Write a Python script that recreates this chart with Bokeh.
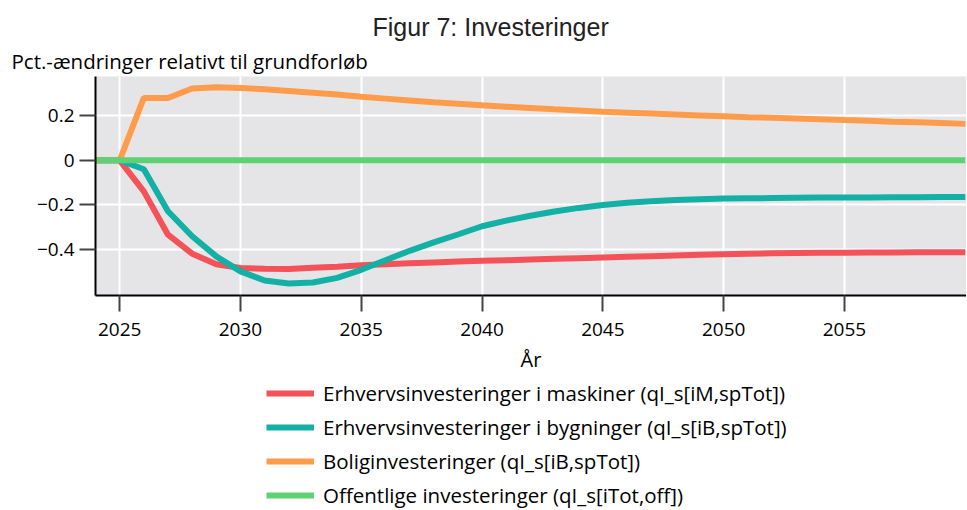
from bokeh.plotting import figure
from bokeh.layouts import column
from bokeh.models import Range1d, FixedTicker, Legend, LegendItem, Title
from bokeh.embed import file_html
from bokeh.resources import INLINE

years = list(range(2024, 2061))
maskiner = [0, 0, -0.139, -0.333, -0.418, -0.465, -0.482, -0.485, -0.486, -0.481,
            -0.476, -0.470, -0.465, -0.461, -0.457, -0.453, -0.450, -0.447, -0.444, -0.441,
            -0.438, -0.435, -0.432, -0.429, -0.426, -0.423, -0.420, -0.418, -0.416, -0.415,
            -0.414, -0.414, -0.413, -0.413, -0.412, -0.412, -0.412]
bygninger = [0, 0, -0.040, -0.228, -0.340, -0.430, -0.497, -0.538, -0.551, -0.547,
             -0.526, -0.490, -0.447, -0.405, -0.367, -0.332, -0.295, -0.270, -0.248, -0.229,
             -0.213, -0.200, -0.190, -0.183, -0.178, -0.174, -0.171, -0.170, -0.169, -0.168,
             -0.167, -0.166, -0.166, -0.165, -0.165, -0.164, -0.164]
bolig = [0, 0, 0.279, 0.279, 0.321, 0.327, 0.324, 0.318, 0.310, 0.302,
         0.294, 0.284, 0.276, 0.268, 0.260, 0.253, 0.246, 0.240, 0.234, 0.228,
         0.223, 0.217, 0.213, 0.209, 0.205, 0.201, 0.197, 0.193, 0.190, 0.187,
         0.184, 0.180, 0.177, 0.173, 0.170, 0.167, 0.163]
offentlige = [0.0] * len(years)

series_names = [
    "Erhvervsinvesteringer i maskiner (qI_s[iM,spTot])",
    "Erhvervsinvesteringer i bygninger (qI_s[iB,spTot])",
    "Boliginvesteringer (qI_s[iB,spTot])",
    "Offentlige investeringer (qI_s[iTot,off])",
]
series_values = [maskiner, bygninger, bolig, offentlige]
colors = ["#F25258", "#13B0A6", "#FF9C4B", "#5ED174"]

x_ticks = [2025, 2030, 2035, 2040, 2045, 2050, 2055]
y_ticks = [-0.4, -0.2, 0, 0.2]
y_tick_labels = ["\u22120.4", "\u22120.2", "0", "0.2"]

FONT = "Open Sans"
FS = "19px"
FS_TEXT = "20.5px"

p = figure(frame_width=871, frame_height=219, output_backend="svg", toolbar_location=None,
           x_range=Range1d(2024, 2060.05), y_range=Range1d(-0.605, 0.375),
           min_border_left=95, min_border_right=0, min_border_top=0, min_border_bottom=78)

# spacer title (outermost)
p.title.text = " "
p.title.text_font_size = "6px"
p.title.standoff = 0

p.add_layout(Title(text="Pct.-\u00e6ndringer relativt til grundforl\u00f8b", text_font=FONT,
                   text_font_size=FS_TEXT, text_font_style="normal", text_color="black",
                   align="left", offset=-84, standoff=4), "above")
p.add_layout(Title(text="Figur 7: Investeringer", text_font="Liberation Sans",
                   text_font_size="25px", text_font_style="normal", text_color="#222222",
                   align="left", offset=277, standoff=4), "above")

p.background_fill_color = "#E5E5E8"
p.outline_line_color = None
p.grid.grid_line_color = "white"
p.grid.grid_line_width = 2

for vals, col in zip(series_values, colors):
    p.line(years, vals, line_color=col, line_width=6)

p.xaxis.ticker = FixedTicker(ticks=x_ticks)
p.yaxis.ticker = FixedTicker(ticks=y_ticks)
p.yaxis.major_label_overrides = {t: l for t, l in zip(y_ticks, y_tick_labels)}
p.xaxis.axis_label = "\u00c5r"
for ax in (p.xaxis[0], p.yaxis[0]):
    ax.axis_line_color = "black"
    ax.axis_line_width = 2
    ax.major_tick_line_color = "#444444"
    ax.major_tick_line_width = 2
    ax.major_tick_out = 16
    ax.major_tick_in = 0
    ax.minor_tick_line_color = None
    ax.major_label_text_font = FONT
    ax.major_label_text_font_size = FS
    ax.major_label_text_color = "black"
    ax.axis_label_text_font = FONT
    ax.axis_label_text_font_size = "20px"
    ax.axis_label_text_font_style = "normal"
    ax.axis_label_text_color = "black"
p.xaxis.major_label_standoff = 11
p.xaxis.axis_label_standoff = 7
p.yaxis.major_label_standoff = 5

# legend figure (lines lie outside its ranges, only the legend is visible)
q = figure(width=966, height=135, output_backend="svg", toolbar_location=None,
           x_range=Range1d(0, 1), y_range=Range1d(0, 1),
           min_border_left=0, min_border_right=0, min_border_top=0, min_border_bottom=0)
q.axis.visible = False
q.grid.visible = False
q.outline_line_color = None
q.background_fill_color = None
q.border_fill_color = None
leg_renderers = []
for vals, col in zip(series_values, colors):
    leg_renderers.append(q.line(years, vals, line_color=col, line_width=6))

legend = Legend(items=[LegendItem(label=n, renderers=[r]) for n, r in zip(series_names, leg_renderers)],
                location=(171, 1), orientation="vertical")
legend.border_line_color = None
legend.background_fill_alpha = 0
legend.glyph_width = 48
legend.glyph_height = 20
legend.label_text_font = FONT
legend.label_text_font_size = FS_TEXT
legend.label_text_color = "black"
legend.label_standoff = 9
legend.spacing = 6
legend.padding = 0
legend.margin = 0
q.add_layout(legend, "center")

layout = column(p, q, spacing=0)
open("out.html", "w").write(file_html(layout, INLINE))
